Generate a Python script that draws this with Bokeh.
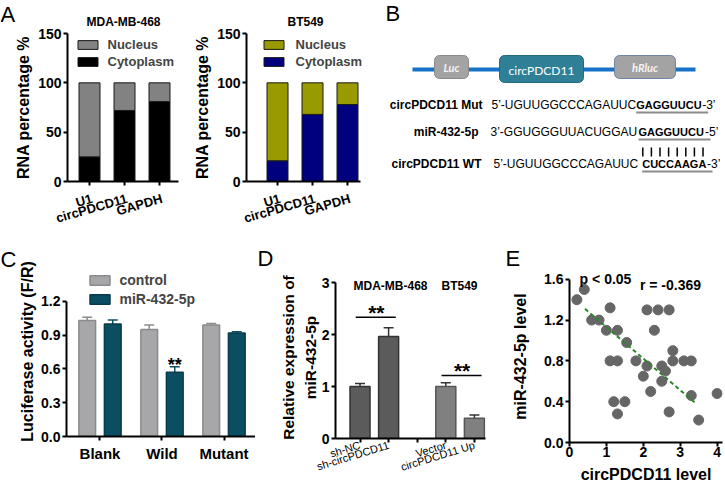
import numpy as np
from bokeh.plotting import figure
from bokeh.layouts import row, column
from bokeh.models import (Range1d, FixedTicker, NumeralTickFormatter, Legend, LegendItem,
                          Label, Whisker, TeeHead, ColumnDataSource)
from bokeh.core.properties import value
from bokeh.embed import file_html
from bokeh.resources import INLINE

FONT = "Liberation Sans"

# ---------------- data ----------------
a_categories = ["U1", "circPDCD11", "GAPDH"]
a_series = ["Nucleus", "Cytoplasm"]
a_total = 100
a_mda_cytoplasm = [25, 72, 81]
a_bt_cytoplasm = [21, 68, 78]
a_yticks = [0, 50, 100, 150]

c_groups = ["Blank", "Wild", "Mutant"]
c_series = ["control", "miR-432-5p"]
c_control = [1.03, 0.95, 0.99]
c_control_err = [0.03, 0.04, 0.015]
c_mir = [1.00, 0.57, 0.92]
c_mir_err = [0.035, 0.05, 0.01]
c_mir_sig = ["", "**", ""]
c_yticks = [0.0, 0.3, 0.6, 0.9, 1.2]

d_labels = ["sh-NC", "sh-circPDCD11", "", "Vector", "circPDCD11 Up"]
d_cells = ["MDA-MB-468", "MDA-MB-468", "", "BT549", "BT549"]
d_values = [1.0, 1.96, None, 1.0, 0.39]
d_err = [0.06, 0.17, None, 0.07, 0.06]
d_cell_names = ["MDA-MB-468", "BT549"]
d_sig_text = ["**", "**"]
d_sig_y = [2.33, 1.21]
d_yticks = [0, 1, 2, 3]

e_circ = [0.2, 0.4, 0.6, 0.8, 1.0, 1.1, 1.3, 1.55, 1.1, 1.3, 1.2, 1.3, 1.5, 1.8, 2.0, 2.1,
          2.1, 2.4, 2.3, 2.2, 2.5, 2.6, 2.5, 2.7, 2.8, 2.8, 2.7, 3.1, 3.3, 3.3, 3.5, 4.0]
e_mir = [1.4, 1.5, 1.2, 1.2, 1.1, 1.32, 1.1, 0.98, 0.8, 0.8, 0.4, 0.28, 0.4, 0.8, 0.65, 0.75,
         1.3, 1.3, 1.1, 0.5, 0.75, 0.7, 0.6, 1.3, 0.9, 0.8, 0.3, 0.8, 0.8, 0.46, 0.22, 0.48]
e_fit_x = [0.42, 3.4]
e_fit_y = [1.31, 0.39]
e_p_text = "p < 0.05"
e_r_text = "r = -0.369"
e_xticks = [0, 1, 2, 3, 4]
e_yticks = [0.0, 0.4, 0.8, 1.2, 1.6]


# ---------------- helpers ----------------
def make_fig(width, height, left, right, top, bottom, x_range, y_range):
    p = figure(width=width, height=height, x_range=x_range, y_range=y_range,
               output_backend="svg", toolbar_location=None, frame_align=False,
               title_location=None,
               min_border_left=left, min_border_right=right,
               min_border_top=top, min_border_bottom=bottom)
    p.outline_line_color = None
    p.grid.visible = False
    p.background_fill_color = "white"
    p.border_fill_color = "white"
    for ax in p.axis:
        ax.axis_line_width = 2
        ax.axis_line_color = "black"
        ax.major_tick_line_width = 2
        ax.major_tick_line_color = "black"
        ax.major_tick_in = 0
        ax.major_tick_out = 4
        ax.minor_tick_line_color = None
        ax.major_label_text_font = FONT
        ax.major_label_text_font_style = "bold"
        ax.major_label_text_font_size = "14px"
        ax.major_label_text_color = "black"
        ax.major_label_standoff = 2
        ax.axis_label_text_font = FONT
        ax.axis_label_text_font_style = "bold"
        ax.axis_label_text_font_size = "16px"
        ax.axis_label_text_color = "black"
        ax.axis_label_standoff = 3
    return p


def strip(width, height, items):
    """Text-only figure used for the panel letters and panel titles."""
    p = figure(width=width, height=height, x_range=Range1d(0, width), y_range=Range1d(height, 0),
               output_backend="svg", toolbar_location=None, frame_align=False,
               title_location=None,
               min_border_left=0, min_border_right=0, min_border_top=0, min_border_bottom=0,
               x_axis_location=None, y_axis_location=None)
    p.outline_line_color = None
    p.grid.visible = False
    for (x, y, text, size, style, align) in items:
        p.text(x=[x], y=[y], text=[text], text_font=value(FONT), text_font_size=size,
               text_font_style=style, text_align=align, text_baseline="middle",
               text_color="black")
    return p


def screen_label(p, x, y, text, size, style="bold", align="center", baseline="middle"):
    p.add_layout(Label(x=x, y=y, x_units="screen", y_units="screen", text=text,
                       text_font=FONT, text_font_size=size, text_font_style=style,
                       text_align=align, text_baseline=baseline, text_color="black"))


def make_legend(items, loc, glyph_w, glyph_h, label_h, spacing, standoff, size):
    return Legend(items=items, location=loc, glyph_width=glyph_w, glyph_height=glyph_h,
                  label_height=label_h, spacing=spacing, padding=0, margin=0,
                  label_standoff=standoff, border_line_color=None, background_fill_alpha=0,
                  label_text_font=FONT, label_text_font_style="bold",
                  label_text_font_size=size)


def lowered(label):
    # leading blank line: pushes a rotated tick label a little further below the axis
    return "\n" + label if label else label


LETTER = "22px"
ROW1 = 246

# ---------------- panel A ----------------
def panel_a(width, left, right, x_start, x_end, x_bound, cyto, nuc_color, cyto_color,
            legend_x, standoff):
    p = make_fig(width, ROW1 - 27, left, right, 6, ROW1 - 181,
                 Range1d(x_start, x_end), Range1d(0, 150))
    xs = list(range(len(a_categories)))
    src = ColumnDataSource(dict(x=xs, cyto=cyto, total=[a_total] * len(xs)))
    r_cyto = p.vbar(x="x", top="cyto", bottom=0, width=0.6, source=src,
                    fill_color=cyto_color, line_color="#1a1a1a", line_width=1)
    r_nuc = p.vbar(x="x", bottom="cyto", top="total", width=0.6, source=src,
                   fill_color=nuc_color, line_color="#1a1a1a", line_width=1)
    p.xaxis.ticker = FixedTicker(ticks=xs)
    p.xaxis.major_label_overrides = {i: lowered(c) for i, c in enumerate(a_categories)}
    p.xaxis.major_label_orientation = 0.28
    p.xaxis.major_label_text_font_size = "13px"
    p.xaxis.major_label_standoff = 4
    p.xaxis.bounds = (x_start, x_bound)
    p.yaxis.ticker = FixedTicker(ticks=a_yticks)
    p.yaxis.axis_label = "RNA percentage %"
    leg = make_legend([LegendItem(label=a_series[0], renderers=[r_nuc]),
                       LegendItem(label=a_series[1], renderers=[r_cyto])],
                      (legend_x, 112), 25, 11, 15, 2, standoff, "13px")
    p.add_layout(leg)
    return p


pa1 = panel_a(180, 67, 2, -0.629, 2.543, 2.543, a_mda_cytoplasm, "#828282", "#000000", 7.5, 8)
pa2 = panel_a(200, 66, 10, -0.886, 2.657, 2.371, a_bt_cytoplasm, "#999900", "#00007f", 14.5, 10)
ha1 = strip(180, 27, [(0, 13.5, "A", LETTER, "normal", "left"),
                      (123, 21, "MDA-MB-468", "12px", "bold", "center")])
ha2 = strip(200, 27, [(125, 21, "BT549", "12px", "bold", "center")])

# ---------------- panel B (schematic) ----------------
pb = figure(width=344, height=ROW1, x_range=Range1d(380, 724), y_range=Range1d(ROW1, 0),
            output_backend="svg", toolbar_location=None, frame_align=False,
            title_location=None,
            min_border_left=0, min_border_right=0, min_border_top=0, min_border_bottom=0,
            x_axis_location=None, y_axis_location=None)
pb.outline_line_color = None
pb.grid.visible = False

b_box_names = ["Luc", "circPDCD11", "hRluc"]
b_line_x = [412, 695]
b_line_y = [69, 69]
b_box_left = [434, 499, 614]
b_box_right = [468, 583, 675]
b_box_top = [55, 55, 55]
b_box_bottom = [78, 82, 78]
b_box_fill = ["#a3a3a3", "#2f8097", "#a3a3a3"]
b_box_line = ["#8a8a8a", "#256a7e", "#6f84a8"]

pb.line(b_line_x, b_line_y, line_width=4, color="#1572c6")
pb.quad(left=b_box_left, right=b_box_right, top=b_box_top, bottom=b_box_bottom,
        fill_color=b_box_fill, line_color=b_box_line, line_width=1, border_radius=5)
bx = [(l + r) / 2 for l, r in zip(b_box_left, b_box_right)]
by = [(t + b) / 2 for t, b in zip(b_box_top, b_box_bottom)]
pb.text(x=[bx[0], bx[2]], y=[by[0], by[2]], text=[b_box_names[0], b_box_names[2]],
        text_font=value("Lato"), text_font_size="11px", text_font_style="bold italic",
        text_color="#f4f4f4", text_align="center", text_baseline="middle")
pb.text(x=[bx[1]], y=[by[1] + 1], text=[b_box_names[1]],
        text_font=value("Lato"), text_font_size="12px", text_font_style="normal",
        text_color="white", text_align="center", text_baseline="middle")

b_row_labels = ["circPDCD11 Mut", "miR-432-5p", "circPDCD11 WT"]
b_seq_head = ["5’-UGUUGGCCCAGAUUC", "3’-GGUGGGUUACUGGAU", "5’-UGUUGGCCCAGAUUC"]
b_seq_site = ["GAGGUUCU", "GAGGUUCU", "CUCCAAGA"]
b_seq_tail = ["-3’", "-5’", "-3’"]
b_row_y = [104, 131, 163]
b_label_right = [482, 478, 481]
b_head_x = [491, 490, 493]
b_site_x = [635.7, 638, 641.7]
b_tail_x = [701.7, 704.5, 706.5]
b_under_end = [707.7, 710, 712]
b_under_y = [112, 139, 171]
b_pair_x = [642.3, 650.9, 659.5, 668.1, 676.7, 685.3, 693.9, 702.5]

pb.text(x=b_label_right, y=b_row_y, text=b_row_labels, text_font=value(FONT),
        text_font_size="12px", text_font_style="bold", text_align="right",
        text_baseline="middle", text_color="black")
pb.text(x=b_head_x, y=b_row_y, text=b_seq_head, text_font=value(FONT),
        text_font_size="12px", text_align="left", text_baseline="middle", text_color="black")
pb.text(x=b_site_x, y=b_row_y, text=b_seq_site, text_font=value(FONT),
        text_font_size="11px", text_font_style="bold", text_align="left",
        text_baseline="middle", text_color="black")
pb.text(x=b_tail_x, y=b_row_y, text=b_seq_tail, text_font=value(FONT),
        text_font_size="12px", text_align="left", text_baseline="middle", text_color="black")
pb.segment(x0=b_site_x, x1=b_under_end, y0=b_under_y, y1=b_under_y,
           line_color="#8c8c8c", line_width=2)
pb.segment(x0=b_pair_x, x1=b_pair_x, y0=[147] * len(b_pair_x), y1=[156] * len(b_pair_x),
           line_color="black", line_width=1.5)
pb.text(x=[385], y=[12.5], text=["B"], text_font=value(FONT), text_font_size=LETTER,
        text_align="left", text_baseline="middle", text_color="black")

# ---------------- panel C ----------------
pc = make_fig(239, 242, 47, 0, 20, 52, Range1d(-0.54, 2.508), Range1d(0, 1.511))
gx = np.arange(len(c_groups))
off = 0.206
src_c1 = ColumnDataSource(dict(x=gx - off, top=c_control,
                               upper=np.array(c_control) + np.array(c_control_err)))
src_c2 = ColumnDataSource(dict(x=gx + off, top=c_mir,
                               upper=np.array(c_mir) + np.array(c_mir_err)))
r_c1 = pc.vbar(x="x", top="top", width=0.27, source=src_c1, fill_color="#a7a7a9",
               line_color="#8b8b8d", line_width=1.5)
r_c2 = pc.vbar(x="x", top="top", width=0.27, source=src_c2, fill_color="#0b4e62",
               line_color="#083c4c", line_width=1.5)
for src, col in ((src_c1, "#8b8b8d"), (src_c2, "#0b4e62")):
    pc.add_layout(Whisker(source=src, base="x", lower="top", upper="upper",
                          upper_head=TeeHead(size=10, line_color=col, line_width=1.5),
                          lower_head=None, line_color=col, line_width=1.5))
sig_idx = [i for i, s in enumerate(c_mir_sig) if s]
pc.text(x=[gx[i] + off for i in sig_idx], y=[c_mir[i] + c_mir_err[i] for i in sig_idx],
        text=[c_mir_sig[i] for i in sig_idx], text_font=value(FONT), text_font_size="18px",
        text_font_style="bold", text_align="center", text_baseline="middle",
        y_offset=-2, text_color="black")
pc.xaxis.ticker = FixedTicker(ticks=list(gx))
pc.xaxis.major_label_overrides = {int(i): g for i, g in zip(gx, c_groups)}
pc.xaxis.major_label_text_font_size = "15px"
pc.xaxis.major_label_standoff = 4
pc.yaxis.ticker = FixedTicker(ticks=c_yticks)
pc.yaxis.formatter = NumeralTickFormatter(format="0.0")
pc.yaxis.bounds = (0, 1.2)
pc.yaxis.axis_label = "Luciferase activity (F/R)"
pc.yaxis.axis_label_standoff = 2
pc.add_layout(make_legend([LegendItem(label=c_series[0], renderers=[r_c1]),
                           LegendItem(label=c_series[1], renderers=[r_c2])],
                          (20.5, 128.5), 25, 12, 17, 2, 8, "14px"))
sc = strip(16, 242, [(0, 12.5, "C", LETTER, "normal", "left")])

# ---------------- panel D ----------------
pd_ = make_fig(240, 218, 80, 10, 6, 50, Range1d(-0.857, 4.388), Range1d(0, 3.116))
d_idx = [i for i, l in enumerate(d_labels) if l]
d_colors = {d_cell_names[0]: ("#5b5b5b", "#333333"), d_cell_names[1]: ("#808080", "#555555")}
src_d = ColumnDataSource(dict(
    x=d_idx,
    top=[d_values[i] for i in d_idx],
    upper=[d_values[i] + d_err[i] for i in d_idx],
    fill=[d_colors[d_cells[i]][0] for i in d_idx],
    line=[d_colors[d_cells[i]][1] for i in d_idx]))
pd_.vbar(x="x", top="top", width=0.7, source=src_d, fill_color="fill", line_color="line",
         line_width=1.5)
pd_.add_layout(Whisker(source=src_d, base="x", lower="top", upper="upper",
                       upper_head=TeeHead(size=10, line_color="#333333", line_width=1.5),
                       lower_head=None, line_color="#333333", line_width=1.5))
sx0, sx1, sxm = [], [], []
for name in d_cell_names:
    members = [i for i in d_idx if d_cells[i] == name]
    sx0.append(min(members) - 0.15)
    sx1.append(max(members) + 0.25)
    sxm.append(np.mean(members) + 0.07)
pd_.segment(x0=sx0, x1=sx1, y0=d_sig_y, y1=d_sig_y, line_color="black", line_width=1.5)
pd_.text(x=sxm, y=d_sig_y, text=d_sig_text, text_font=value(FONT), text_font_size="21px",
         text_font_style="bold", text_align="center", text_baseline="middle",
         y_offset=-5, text_color="black")
pd_.xaxis.ticker = FixedTicker(ticks=list(range(len(d_labels))))
pd_.xaxis.major_label_overrides = {i: l for i, l in enumerate(d_labels)}
pd_.xaxis.major_label_orientation = 0.3
pd_.xaxis.major_label_text_font_style = "normal"
pd_.xaxis.major_label_text_font_size = "11px"
pd_.xaxis.major_label_standoff = 2
pd_.yaxis.ticker = FixedTicker(ticks=d_yticks)
pd_.yaxis.bounds = (0, 3)
pd_.yaxis.axis_label = "Relative expression of\nmiR-432-5p"
pd_.yaxis.axis_label_text_font_size = "15.5px"
pd_.yaxis.axis_label_text_line_height = 1.3
pd_.yaxis.axis_label_standoff = 0
screen_label(pd_, 55, 153, d_cell_names[0], "12px")
screen_label(pd_, 124, 153, d_cell_names[1], "12px")
hd = strip(240, 24, [(2, 12, "D", LETTER, "normal", "left")])

# ---------------- panel E ----------------
pe = make_fig(229, 218, 74, 2, 0, 46, Range1d(0, 4.146), Range1d(0, 1.686))
pe.scatter(e_circ, e_mir, size=10, fill_color="#666666", line_color="#666666")
pe.line(e_fit_x, e_fit_y, line_dash="4 3", line_width=2, color="#2a872a")
pe.xaxis.ticker = FixedTicker(ticks=e_xticks)
pe.yaxis.ticker = FixedTicker(ticks=e_yticks)
pe.yaxis.formatter = NumeralTickFormatter(format="0.0")
pe.yaxis.bounds = (0, 1.6)
pe.xaxis.axis_label = "circPDCD11 level"
pe.yaxis.axis_label = "miR-432-5p level"
pe.xaxis.major_label_standoff = 0
pe.xaxis.axis_label_standoff = 6
pe.yaxis.axis_label_standoff = 12
screen_label(pe, 36, 164, e_p_text, "14px")
screen_label(pe, 101, 158, e_r_text, "14px")
he = strip(229, 24, [(10, 12, "E", LETTER, "normal", "left")])

layout = column(
    row(column(ha1, pa1), column(ha2, pa2), pb),
    row(sc, pc, column(hd, pd_), column(he, pe)),
)
open("out.html", "w").write(file_html(layout, INLINE))
